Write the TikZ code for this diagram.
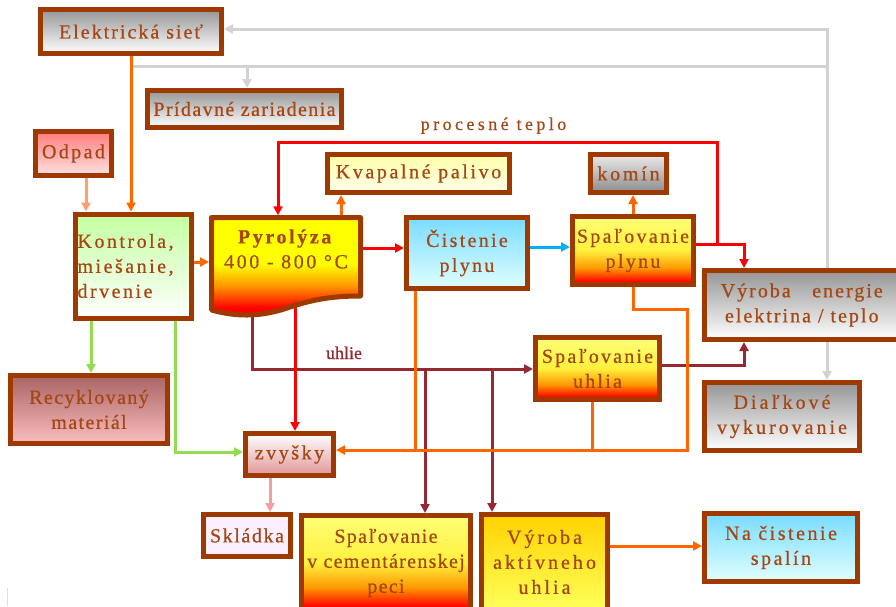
\documentclass[tikz,border=0pt]{standalone}
\usepackage{fontspec}
\setmainfont{Liberation Serif}[LetterSpace=12.0,FakeBold=0.6]
\usetikzlibrary{arrows.meta}

\definecolor{brd}{RGB}{158,58,0}
\definecolor{txt}{RGB}{165,70,20}
\definecolor{orng}{RGB}{255,102,0}
\definecolor{lorng}{RGB}{255,160,110}
\definecolor{rd}{RGB}{255,0,0}
\definecolor{mrn}{RGB}{150,40,50}
\definecolor{grn}{RGB}{146,220,80}
\definecolor{blu}{RGB}{0,176,240}
\definecolor{gln}{RGB}{210,210,210}
\definecolor{pnk}{RGB}{240,160,160}
\definecolor{yl}{RGB}{255,255,0}
\definecolor{ylm}{RGB}{255,240,60}
\definecolor{ylt}{RGB}{255,255,120}
\definecolor{ora}{RGB}{255,150,0}
\definecolor{gshade}{RGB}{150,150,150}
\definecolor{odp1}{RGB}{255,125,125}
\definecolor{odp2}{RGB}{255,225,225}
\definecolor{kv1}{RGB}{255,255,170}
\definecolor{kv2}{RGB}{255,255,235}
\definecolor{gr1}{RGB}{195,255,160}
\definecolor{bl1}{RGB}{120,220,255}
\definecolor{bl2}{RGB}{225,255,255}
\definecolor{rec1}{RGB}{170,100,100}
\definecolor{rec2}{RGB}{250,190,190}
\definecolor{zv2}{RGB}{225,150,150}
\definecolor{skl}{RGB}{250,240,255}
\definecolor{gold}{RGB}{255,210,0}
\definecolor{yl3}{RGB}{255,255,90}

\pgfdeclarelayer{bg}
\pgfsetlayers{bg,main}

% yellow-to-red fill of the burners
\pgfdeclareverticalshading{fire}{100bp}{color(0bp)=(rd); color(27bp)=(rd); color(37bp)=(ora); color(50bp)=(ylm); color(75bp)=(ylt); color(100bp)=(ylt)}
\pgfdeclareverticalshading{pyrfire}{100bp}{color(0bp)=(rd); color(30bp)=(rd); color(41bp)=(ora); color(52bp)=(yl); color(100bp)=(yl)}

\newcommand\fs[1]{\fontsize{20}{25}\selectfont\addfontfeature{LetterSpace=#1}}

\begin{document}
\begin{tikzpicture}[x=1pt,y=-1pt,
  box/.style={draw=brd, line width=5pt, inner sep=0pt, align=center, text=txt},
  grayfill/.style={top color=gshade, bottom color=white},
  wire/.style={line width=3pt},
  arr/.style={wire, -{Triangle[length=9pt,width=9pt]}},
  lbl/.style={inner sep=0pt, anchor=base}]

\useasboundingbox (0,0) rectangle (896,606);

% ---- boxes ----
\node[box, grayfill, font=\fs{10}, minimum width=181pt, minimum height=44pt] (siet) at (131,31.5) {Elektrická sieť};
\node[box, grayfill, font=\fs{7}, minimum width=194pt, minimum height=37pt] (prid) at (244.5,109) {Prídavné zariadenia};
\node[box, top color=odp1, bottom color=odp2, font=\fs{12}, minimum width=76pt, minimum height=44pt] (odpad) at (73.5,153.5) {Odpad};
\node[box, top color=kv1, bottom color=kv2, font=\fs{13}, minimum width=182pt, minimum height=38pt] (kvap) at (418.5,173.5) {Kvapalné palivo};
\node[box, top color=black!8, bottom color=black!45, font=\fs{14}, minimum width=76pt, minimum height=38pt] (komin) at (628.5,173.5) {komín};
\node[box, top color=gr1, bottom color=white, font=\fs{12.5}, text width=112pt, align=left, minimum width=116pt, minimum height=104pt] (kontr) at (133.5,266) {Kontrola,\\miešanie,\\drvenie};

% pyrolysis reactor: document shape with a wavy bottom
\shade[shading=pyrfire] (211.5,217.5) -- (360.5,217.5) -- (360.5,296) .. controls (330,296) and (312,300) .. (290,307) .. controls (265,316) and (240,318) .. (211.5,310) -- cycle;
\draw[brd, line width=5pt, line join=round] (211.5,217.5) -- (360.5,217.5) -- (360.5,296) .. controls (330,296) and (312,300) .. (290,307) .. controls (265,316) and (240,318) .. (211.5,310) -- cycle;
\node[inner sep=0pt, outer sep=2.5pt, align=center, text=txt, font=\fs{13}, minimum width=149pt, minimum height=62.5pt] (pyr) at (286,249) {\textbf{Pyrolýza}\\400 - 800 °C};

\node[box, top color=bl1, bottom color=bl2, font=\fs{11.5}, minimum width=121pt, minimum height=71pt] (cist) at (467,253) {Čistenie\\plynu};
\node[box, shade, shading=fire, font=\fs{11.5}, minimum width=121pt, minimum height=68pt] (spplyn) at (633,250.5) {Spaľovanie\\plynu};
\node[box, grayfill, font=\fs{10}, minimum width=194.5pt, minimum height=69pt] (vyr) at (801.75,305) {\makebox[162pt][s]{Výroba energie}\\elektrina / teplo};
\node[box, shade, shading=fire, font=\fs{11}, minimum width=124pt, minimum height=62pt] (spuhl) at (597.5,368.5) {Spaľovanie\\uhlia};
\node[box, top color=rec1, bottom color=rec2, font=\fs{7}, minimum width=157pt, minimum height=68pt] (recykl) at (89,409.5) {Recyklovaný\\materiál};
\node[box, grayfill, font=\fs{15}, minimum width=155pt, minimum height=68pt] (dialk) at (782,416.5) {Diaľkové\\vykurovanie};
\node[box, top color=white, bottom color=zv2, font=\fs{12.7}, minimum width=88pt, minimum height=42pt] (zvysky) at (289.5,454.5) {zvyšky};
\node[box, fill=skl, font=\fs{8}, minimum width=87pt, minimum height=42pt] (skladka) at (247,535.5) {Skládka};
\node[box, shade, shading=fire, font=\fs{6.5}, minimum width=169pt, minimum height=95pt] (cement) at (386,563) {Spaľovanie\\v cementárenskej\\peci};
\node[box, top color=gold, bottom color=yl3, font=\fs{15}, minimum width=126pt, minimum height=95pt] (aktiv) at (544.5,562) {Výroba\\aktívneho\\uhlia};
\node[box, top color=bl1, bottom color=bl2, font=\fs{12.5}, minimum width=153pt, minimum height=68pt] (nacist) at (781,547.5) {Na čistenie\\spalín};

% ---- labels ----
\node[lbl, text=txt, font=\fontsize{18}{20}\selectfont\addfontfeature{LetterSpace=19}] (pteplo) at (493.5,130) {procesné teplo};
\node[lbl, text=mrn, font=\fontsize{18}{20}\selectfont\addfontfeature{LetterSpace=0}] (uhl) at (344,359) {uhlie};

% ---- connectors ----
\coordinate (gx) at (827,29);
\coordinate (gmid) at (827,66);
\coordinate (pt) at (717,142);
\coordinate (u1) at (425,369);
\coordinate (u2) at (492,369);
\coordinate (o1) at (687,309);
\coordinate (o2) at (687,450);

\begin{pgfonlayer}{bg}
% electricity and heat distribution
\draw[arr, gln] (vyr.north -| gx) -- (gx) -- (gx -| siet.east);
\draw[wire, gln] (gmid) -- (gmid -| siet.south);
\draw[arr, gln] ([xshift=2.5pt]gmid -| prid.north) -- ([xshift=2.5pt]prid.north);
\draw[arr, gln] (vyr.south -| gx) -- (dialk.north -| gx);
\draw[arr, orng] (siet.south) -- (siet.south |- kontr.north);
\draw[arr, lorng] ([xshift=12.5pt]odpad.south) -- ([xshift=12.5pt]odpad.south |- kontr.north);
% main process chain
\draw[arr, orng] (kontr.east |- 0,262) -- (pyr.west |- 0,262);
\draw[arr, orng] (pyr.north -| 341,0) -- (kvap.south -| 341,0);
\draw[arr, rd] (pyr.east |- 0,248) -- (cist.west |- 0,248);
\draw[arr, blu] (cist.east |- 0,247) -- (spplyn.west |- 0,247);
\draw[arr, orng] (spplyn.north) -- (spplyn.north |- komin.south);
% process heat
\draw[arr, rd] (spplyn.east |- 0,244) -| (pt) -| (pyr.north -| 278,0);
\draw[arr, rd] (spplyn.east |- 0,244) -| (vyr.north -| 744,0);
% char
\draw[arr, mrn] (pyr.south -| 252,0) |- (spuhl.west |- 0,369);
\draw[arr, mrn] (u1) -- (u1 |- cement.north);
\draw[arr, mrn] (u2) -- (u2 |- aktiv.north);
\draw[arr, mrn] (spuhl.east |- 0,365) -| (vyr.south -| 744,0);
% residues
\draw[arr, rd] (pyr.south -| 295,0) -- (zvysky.north -| 295,0);
\draw[arr, grn] (kontr.south -| 91,0) -- (recykl.north -| 91,0);
\draw[arr, grn] (kontr.south -| 175,0) |- (zvysky.west |- 0,452);
\draw[arr, orng] (spplyn.south) |- (o1) -- (o2) -- (o2 -| zvysky.east);
\draw[wire, orng] (cist.south -| 415,0) -- (o2 -| 415,0);
\draw[wire, orng] (spuhl.south -| 592,0) -- (o2 -| 592,0);
\draw[arr, pnk] (zvysky.south -| 270,0) -- (skladka.north -| 270,0);
\draw[arr, orng] (aktiv.east |- 0,546) -- (nacist.west |- 0,546);
\end{pgfonlayer}

\draw[gray!25, line width=1pt] (7,588) -- (7,606);
\end{tikzpicture}
\end{document}
